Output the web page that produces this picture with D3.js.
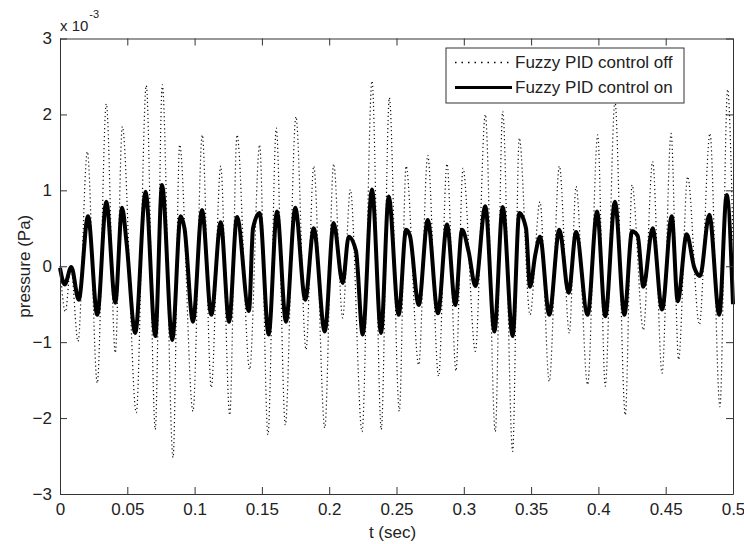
<!DOCTYPE html>
<html>
<head>
<meta charset="utf-8">
<script src="https://cdn.jsdelivr.net/npm/d3@7"></script>
<style>
body { margin: 0; background: #fff; }
text { font-family: "Liberation Sans", Arial, sans-serif; fill: #222; }
</style>
</head>
<body>
<div id="graph"></div>
<script>
// pressure values are in units of 1e-3 Pa
var tOff = [0, 0.004, 0.008, 0.0134, 0.0203, 0.0277, 0.0344, 0.0411, 0.0463, 0.0567,
  0.0641, 0.0708, 0.0760, 0.0840, 0.0889, 0.0988, 0.1057, 0.1124, 0.1194, 0.1261,
  0.1315, 0.1409, 0.1483, 0.1545, 0.1607, 0.1674, 0.1753, 0.1828, 0.1885, 0.1967,
  0.2033, 0.2100, 0.2157, 0.2244, 0.2318, 0.2387, 0.2447, 0.2521, 0.2571, 0.2665,
  0.2732, 0.2813, 0.2875, 0.2942, 0.2994, 0.3086, 0.3160, 0.3234, 0.3289, 0.3363,
  0.3412, 0.3492, 0.3566, 0.3635, 0.3710, 0.3784, 0.3834, 0.3920, 0.3995, 0.4051,
  0.4123, 0.4200, 0.4250, 0.4334, 0.4403, 0.4473, 0.4540, 0.4596, 0.4663, 0.4750,
  0.4829, 0.4903, 0.4960, 0.5];
var vOff = [0, -0.6, 0.0, -0.99, 1.51, -1.54, 2.14, -1.14, 1.84, -1.93,
  2.38, -2.15, 2.39, -2.52, 1.60, -1.91, 1.73, -1.60, 1.32, -1.96,
  1.73, -1.36, 1.60, -2.22, 1.82, -2.09, 1.97, -1.10, 1.32, -2.13,
  1.35, -0.68, 1.01, -2.18, 2.44, -2.15, 2.22, -1.91, 1.32, -1.30,
  1.46, -1.45, 1.35, -1.38, 1.29, -1.12, 2.00, -2.18, 2.04, -2.44,
  1.69, -0.64, 0.85, -1.52, 1.32, -0.88, 1.05, -1.56, 1.73, -1.58,
  2.17, -1.96, 1.07, -0.84, 1.38, -1.41, 1.75, -1.23, 1.18, -0.77,
  1.75, -1.85, 2.33, 0.3];

var tOn = [0, 0.0035, 0.0084, 0.0139, 0.0208, 0.0277, 0.0344, 0.0411, 0.0461, 0.0495,
  0.0559, 0.0636, 0.0708, 0.0758, 0.0834, 0.0896, 0.0925, 0.0988, 0.1055, 0.1124,
  0.1194, 0.1256, 0.1315, 0.1404, 0.1434, 0.1483, 0.1550, 0.1612, 0.1679, 0.1748,
  0.1822, 0.1885, 0.1967, 0.2033, 0.2100, 0.2145, 0.2199, 0.2249, 0.2318, 0.2385,
  0.2442, 0.2516, 0.2571, 0.2600, 0.2665, 0.2732, 0.2808, 0.2875, 0.2937, 0.2987,
  0.3036, 0.3086, 0.3160, 0.3227, 0.3289, 0.3363, 0.3412, 0.3462, 0.3492, 0.3531,
  0.3566, 0.3635, 0.3710, 0.3779, 0.3834, 0.3920, 0.3990, 0.4051, 0.4123, 0.4193,
  0.4250, 0.4292, 0.4334, 0.4403, 0.4473, 0.4545, 0.4589, 0.4656, 0.4713, 0.4755,
  0.4824, 0.4898, 0.4953, 0.5];
var vOn = [-0.02, -0.24, -0.01, -0.44, 0.66, -0.64, 0.85, -0.48, 0.77, 0.30,
  -0.88, 0.98, -0.92, 1.07, -0.97, 0.66, 0.50, -0.73, 0.74, -0.64,
  0.58, -0.73, 0.65, -0.59, 0.50, 0.70, -0.90, 0.72, -0.73, 0.77,
  -0.44, 0.50, -0.86, 0.57, -0.22, 0.39, 0.20, -0.90, 1.01, -0.88,
  0.92, -0.64, 0.48, 0.40, -0.51, 0.61, -0.62, 0.55, -0.51, 0.48,
  0.19, -0.26, 0.79, -0.86, 0.78, -0.92, 0.70, 0.50, -0.27, 0.15,
  0.39, -0.64, 0.48, -0.35, 0.45, -0.64, 0.72, -0.66, 0.85, -0.64,
  0.46, 0.40, -0.27, 0.50, -0.57, 0.66, -0.46, 0.42, -0.02, -0.13,
  0.68, -0.64, 0.94, -0.5];

var xTicks = [0, 0.05, 0.1, 0.15, 0.2, 0.25, 0.3, 0.35, 0.4, 0.45, 0.5];
var yTicks = [-3, -2, -1, 0, 1, 2, 3];
var seriesNames = ["Fuzzy PID control off", "Fuzzy PID control on"];

var W = 744, H = 544;
var m = {left: 60, top: 38.5, right: 11, bottom: 50};
var w = W - m.left - m.right, h = H - m.top - m.bottom;

var svg = d3.select("#graph").append("svg").attr("width", W).attr("height", H);
var g = svg.append("g").attr("transform", "translate(" + m.left + "," + m.top + ")");

var x = d3.scaleLinear().domain([0, 0.5]).range([0, w]);
var y = d3.scaleLinear().domain([-3, 3]).range([h, 0]);

var line = d3.line()
  .x(function(d) { return x(d[0]); })
  .y(function(d) { return y(d[1]); })
  .curve(d3.curveMonotoneX);

var off = d3.zip(tOff, vOff), on = d3.zip(tOn, vOn);

g.append("path").datum(off).attr("d", line)
  .attr("fill", "none").attr("stroke", "#111")
  .attr("stroke-width", 1.2).attr("stroke-dasharray", "1.2,2.8");

g.append("path").datum(on).attr("d", line)
  .attr("fill", "none").attr("stroke", "#000")
  .attr("stroke-width", 4).attr("stroke-linejoin", "round");

// axes with inward ticks, mirrored on top and right
function fmt(d) { return d3.format("")(d); }
var ax = [
  d3.axisBottom(x).tickValues(xTicks).tickFormat(fmt),
  d3.axisTop(x).tickValues(xTicks).tickFormat(""),
  d3.axisLeft(y).tickValues(yTicks).tickFormat(fmt),
  d3.axisRight(y).tickValues(yTicks).tickFormat("")
];
var pos = ["translate(0," + h + ")", "translate(0,0)", "translate(0,0)", "translate(" + w + ",0)"];
ax.forEach(function(a, i) {
  a.tickSizeInner(-7).tickSizeOuter(0).tickPadding(i == 2 ? 8 : 9);
  var s = g.append("g").attr("transform", pos[i]).call(a);
  s.select(".domain").attr("stroke", "#333");
  s.selectAll(".tick line").attr("stroke", "#333");
  s.selectAll("text").style("font-size", "17px").attr("fill", "#222")
    .style("font-family", "'Liberation Sans', Arial, sans-serif");
});

g.append("text").attr("x", w / 2 - 4).attr("y", h + 44)
  .attr("text-anchor", "middle").style("font-size", "17px").text("t (sec)");

g.append("text").attr("transform", "translate(" + (30 - m.left) + "," + (h / 2) + ") rotate(-90)")
  .attr("text-anchor", "middle").style("font-size", "17px").text("pressure (Pa)");

var ex = svg.append("text").attr("x", 60).attr("y", 31).style("font-size", "15px");
ex.append("tspan").text("x 10");
ex.append("tspan").attr("dy", -13).attr("dx", 1).style("font-size", "11px").text("-3");

// legend
var lg = svg.append("g").attr("transform", "translate(446,48)");
lg.append("rect").attr("width", 238).attr("height", 55)
  .attr("fill", "#fff").attr("stroke", "#333");
var rows = lg.selectAll(".row").data(seriesNames).enter().append("g")
  .attr("transform", function(d, i) { return "translate(0," + (14.5 + i * 25) + ")"; });
rows.append("line").attr("x1", 9).attr("x2", 66)
  .attr("stroke", "#000")
  .attr("stroke-width", function(d, i) { return i ? 3 : 1.3; })
  .attr("stroke-dasharray", function(d, i) { return i ? null : "1.5,5"; });
rows.append("text").attr("x", 69).attr("dy", "0.35em")
  .style("font-size", "17px").text(function(d) { return d; });
</script>
</body>
</html>
